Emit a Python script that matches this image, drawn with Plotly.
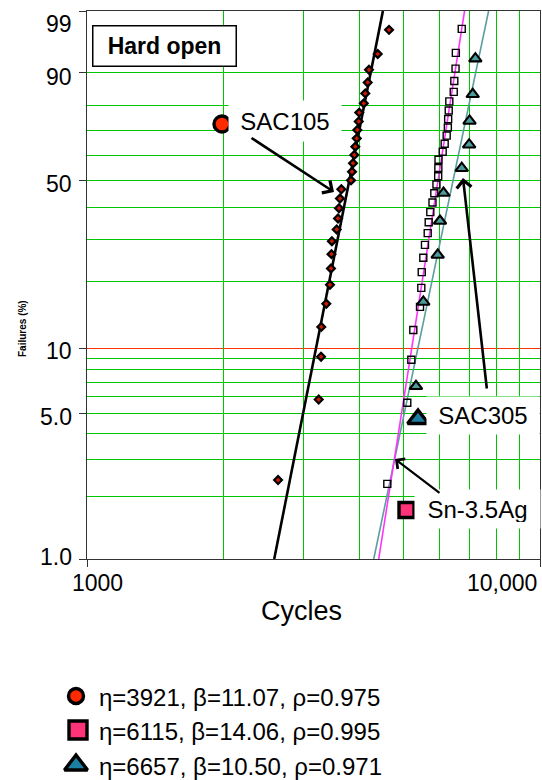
import math
import plotly.graph_objects as go

# ---------------- data ----------------
series_names = ["SAC105", "Sn-3.5Ag", "SAC305"]

sac105_cycles = [2641, 3247, 3286, 3290, 3375, 3439, 3456, 3465, 3472, 3558,
                 3582, 3600, 3618, 3643, 3826, 3846, 3866, 3892, 3911, 3939,
                 3951, 3980, 3990, 4082, 4115, 4165, 4193, 4383, 4642]
sac105_failure_pct = [2.4, 5.8, 9.2, 12.6, 16.0, 19.4, 22.8, 26.2, 29.6, 33.0,
                      36.4, 39.8, 43.2, 46.6, 50.0, 53.4, 56.8, 60.2, 63.6, 67.0,
                      70.4, 73.8, 77.2, 80.6, 84.0, 87.4, 90.8, 94.2, 97.6]

sn35ag_cycles = [4602, 5094, 5199, 5252, 5434, 5470, 5482, 5526, 5573, 5651,
                 5679, 5726, 5790, 5844, 5908, 5960, 5965, 5970, 6098, 6160,
                 6223, 6260, 6270, 6288, 6307, 6450, 6469, 6510, 6520, 6718]
sn35ag_failure_pct = [2.3, 5.6, 8.9, 12.2, 15.5, 18.8, 22.0, 25.3, 28.6, 31.9,
                      35.2, 38.5, 41.8, 45.1, 48.4, 51.6, 54.9, 58.2, 61.5, 64.8,
                      68.1, 71.4, 74.7, 78.0, 81.3, 84.5, 87.8, 91.1, 94.4, 97.7]

sac305_cycles = [5324, 5526, 5945, 6015, 6123, 6718, 6975, 6990, 7104, 7199]
sac305_failure_pct = [6.7, 16.3, 26.0, 35.6, 45.2, 54.8, 64.4, 74.0, 83.7, 93.3]

# fitted Weibull lines, end points read at 1 % and 99 %
fit_pct = [1, 99]
sac105_fit_cycles = [2590, 4500]
sn35ag_fit_cycles = [4405, 6815]
sac305_fit_cycles = [4295, 7700]

legend_labels = ["\u03b7=3921, \u03b2=11.07, \u03c1=0.975",
                 "\u03b7=6115, \u03b2=14.06, \u03c1=0.995",
                 "\u03b7=6657, \u03b2=10.50, \u03c1=0.971"]

x_tick_vals = [1000, 10000]
x_tick_text = ["1000", "10,000"]
x_grid_vals = [2000, 3000, 4000, 5000, 6000, 7000, 8000, 9000]
y_tick_vals = [1, 5, 10, 50, 90, 99]
y_tick_text = ["1.0", "5.0", "10", "50", "90", "99"]
y_grid_vals = [2, 3, 4, 5, 6, 7, 8, 9, 20, 30, 40, 50, 60, 70, 80, 90]
y_red_grid_vals = [10]


def wb(p):
    """Weibull probability scale."""
    return math.log(-math.log(1.0 - p / 100.0))


# ---------------- styles / layout constants ----------------
W, H = 542, 780
PL, PR, PT, PB = 87, 540, 11, 559          # plot area in pixels
FONT = "Liberation Sans, Arial, sans-serif"
GREEN = "#00c400"
RED = "#ff3300"
AX = "#333333"
YR = [wb(1), wb(99)]

fig = go.Figure()

# empty traces so the grid-only overlay axes are drawn
fig.add_trace(go.Scatter(x=[None], y=[None], xaxis="x2", yaxis="y", showlegend=False, hoverinfo="skip"))
fig.add_trace(go.Scatter(x=[None], y=[None], xaxis="x", yaxis="y2", showlegend=False, hoverinfo="skip"))
fig.add_trace(go.Scatter(x=[None], y=[None], xaxis="x", yaxis="y4", showlegend=False, hoverinfo="skip"))

# fitted lines
fig.add_trace(go.Scatter(x=sac105_fit_cycles, y=[wb(p) for p in fit_pct], mode="lines",
                         line=dict(color="black", width=2.6), showlegend=False, hoverinfo="skip"))
fig.add_trace(go.Scatter(x=sac305_fit_cycles, y=[wb(p) for p in fit_pct], mode="lines",
                         line=dict(color="#5b9e9e", width=1.6), showlegend=False, hoverinfo="skip"))
fig.add_trace(go.Scatter(x=sn35ag_fit_cycles, y=[wb(p) for p in fit_pct], mode="lines",
                         line=dict(color="#ff33ff", width=1.6), showlegend=False, hoverinfo="skip"))

# data points
fig.add_trace(go.Scatter(x=sac105_cycles, y=[wb(p) for p in sac105_failure_pct], mode="markers",
                         name=series_names[0], showlegend=False,
                         marker=dict(symbol="diamond", size=6, color="#cc1a00",
                                     line=dict(color="black", width=2.2))))
fig.add_trace(go.Scatter(x=sn35ag_cycles, y=[wb(p) for p in sn35ag_failure_pct], mode="markers",
                         name=series_names[1], showlegend=False,
                         marker=dict(symbol="square-open", size=7, color="black",
                                     line=dict(color="black", width=1.4))))
fig.add_trace(go.Scatter(x=sac305_cycles, y=[wb(p) for p in sac305_failure_pct], mode="markers",
                         name=series_names[2], showlegend=False,
                         marker=dict(symbol="triangle-up", size=11, color="#4f9a9a",
                                     line=dict(color="black", width=2.1))))

# label & legend glyphs on a full-figure pixel overlay
glyph_symbols = ["circle", "square", "triangle-up"]
glyph_colors = ["#ff2a00", "#ff3377", "#1a7fa3"]
label_glyph_pos = [(222, 124), (406.5, 510), (418, 419)]
label_glyph_size = [16, 15, 18]
legend_glyph_pos = [(76, 696), (78, 730), (76, 765)]
legend_glyph_size = [15, 18, 20]
for i in range(3):
    for pos, size in ((label_glyph_pos[i], label_glyph_size[i]), (legend_glyph_pos[i], legend_glyph_size[i])):
        fig.add_trace(go.Scatter(x=[pos[0]], y=[pos[1]], xaxis="x3", yaxis="y3", mode="markers",
                                 showlegend=False, hoverinfo="skip", cliponaxis=False,
                                 marker=dict(symbol=glyph_symbols[i], size=size, color=glyph_colors[i],
                                             line=dict(color="black", width=3.4))))

annotations = []
# y tick labels
y_label_shift = [2.5, -3.5, -2, -4, -4, -13]
for v, t, s in zip(y_tick_vals, y_tick_text, y_label_shift):
    annotations.append(dict(text=t, xref="x3", x=74, yref="y", y=wb(v), xanchor="right",
                            yanchor="middle", yshift=s, showarrow=False,
                            font=dict(family=FONT, size=23, color="black")))
# x tick labels
x_label_shift = [10, -38]
for v, t, s in zip(x_tick_vals, x_tick_text, x_label_shift):
    annotations.append(dict(text=t, xref="x", x=math.log10(v), yref="y3", y=583, xanchor="center",
                            yanchor="middle", xshift=s, showarrow=False,
                            font=dict(family=FONT, size=23, color="black")))
# axis titles
annotations.append(dict(text="Cycles", xref="x3", x=301.5, yref="y3", y=611, showarrow=False,
                        xanchor="center", yanchor="middle",
                        font=dict(family=FONT, size=27, color="black")))
annotations.append(dict(text="<b>Failures (%)</b>", xref="x3", x=22.5, yref="y3", y=328.5,
                        textangle=-90, showarrow=False, xanchor="center", yanchor="middle",
                        font=dict(family=FONT, size=10, color="black")))
# title box
annotations.append(dict(text="<b>Hard open</b>", xref="x3", x=164, yref="y3", y=45.5,
                        showarrow=False, xanchor="center", yanchor="middle",
                        width=132, height=29, borderpad=5, bgcolor="white",
                        bordercolor="black", borderwidth=1.5,
                        font=dict(family=FONT, size=23, color="black")))
# series labels
label_text_pos = [(285, 120.5), (477.5, 508.5), (483, 415)]
label_box = [(100, 28), (113, 26), (100, 25)]
for i in range(3):
    annotations.append(dict(text=series_names[i], xref="x3", x=label_text_pos[i][0], yref="y3",
                            y=label_text_pos[i][1], showarrow=False, xanchor="center",
                            yanchor="middle", width=label_box[i][0], height=label_box[i][1],
                            borderpad=6, bgcolor="white",
                            font=dict(family=FONT, size=24, color="black")))
# arrows (head, tail)
arrows = [((334, 192), (250, 137), 2.6), ((395, 459), (441, 494), 2.2), ((463, 178), (487, 390), 2.6)]
for head, tail, w in arrows:
    annotations.append(dict(text="", xref="x3", x=head[0], yref="y3", y=head[1],
                            axref="x3", ax=tail[0], ayref="y3", ay=tail[1], showarrow=True,
                            arrowhead=4, arrowsize=1.1, arrowwidth=w, arrowcolor="black",
                            standoff=0, startstandoff=0))
# legend texts
for i in range(3):
    annotations.append(dict(text=legend_labels[i], xref="x3", x=97, yref="y3",
                            y=legend_glyph_pos[i][1], showarrow=False, xanchor="left",
                            yanchor="middle", yshift=-1,
                            font=dict(family=FONT, size=24, color="black")))

grid_only = dict(showticklabels=False, ticks="", showline=False, zeroline=False,
                 showgrid=True, gridwidth=1, fixedrange=True, tickmode="array")

fig.update_layout(
    width=W, height=H,
    autosize=False,
    margin=dict(l=0, r=0, t=0, b=0, pad=0),
    paper_bgcolor="white", plot_bgcolor="rgba(0,0,0,0)",
    showlegend=False,
    xaxis=dict(type="log", range=[3, 4], domain=[PL / W, PR / W], anchor="y",
               tickmode="array", tickvals=x_tick_vals, showticklabels=False,
               ticks="outside", ticklen=7, tickcolor=AX, tickwidth=1,
               showline=True, linecolor=AX, linewidth=1, mirror=True,
               showgrid=False, zeroline=False),
    xaxis2=dict(type="log", range=[3, 4], overlaying="x", anchor="y",
                tickvals=x_grid_vals, gridcolor=GREEN, **grid_only),
    yaxis=dict(range=YR, domain=[1 - PB / H, 1 - PT / H], anchor="x",
               tickmode="array", tickvals=[wb(v) for v in y_tick_vals], showticklabels=False,
               ticks="outside", ticklen=7, tickcolor=AX, tickwidth=1,
               showline=True, linecolor=AX, linewidth=1, mirror=True,
               showgrid=False, zeroline=False),
    yaxis2=dict(range=YR, overlaying="y", anchor="x",
                tickvals=[wb(v) for v in y_grid_vals], gridcolor=GREEN, **grid_only),
    yaxis4=dict(range=YR, overlaying="y", anchor="x",
                tickvals=[wb(v) for v in y_red_grid_vals], gridcolor=RED, **grid_only),
    xaxis3=dict(domain=[0, 1], range=[0, W], anchor="y3", visible=False, fixedrange=True),
    yaxis3=dict(domain=[0, 1], range=[H, 0], anchor="x3", visible=False, fixedrange=True),
    annotations=annotations,
)

fig.write_html("out.html", config={"displayModeBar": False},
               post_script="document.body.style.margin='0px';document.body.style.padding='0px';")
